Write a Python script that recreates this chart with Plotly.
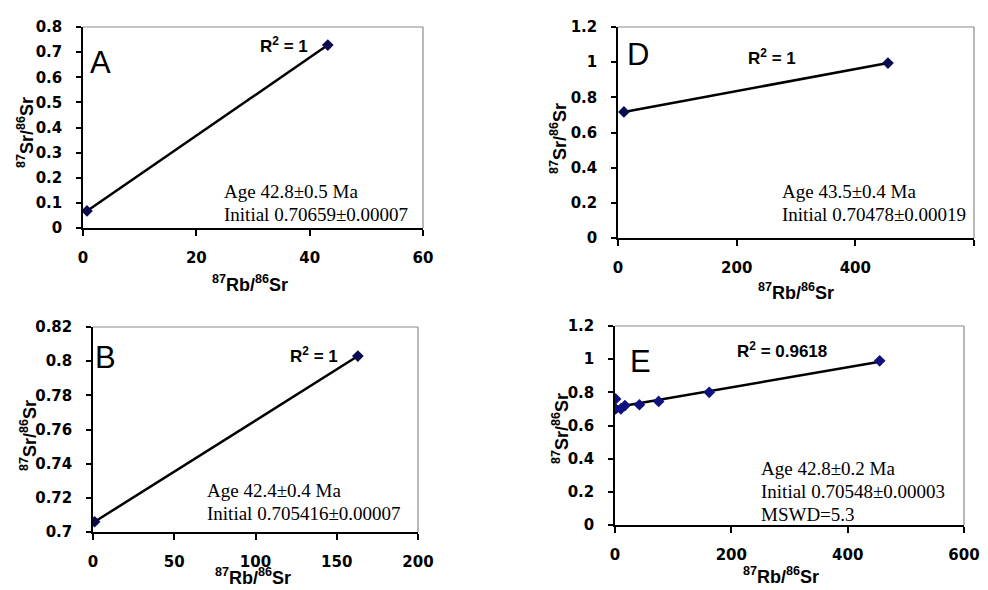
import numpy as np
import plotly.graph_objects as go

W, H = 988, 590
OFF = 0  # body margin removed via post_script, so figure pixels == window pixels

# ---- data ----
a_x = [0.7, 43.2]
a_y = [0.068, 0.728]
b_x = [1, 163]
b_y = [0.706, 0.803]
d_x = [10, 455]
d_y = [0.717, 0.995]
e_x = [1, 1, 10, 17, 42, 75, 162, 455]
e_y = [0.76, 0.70, 0.70, 0.72, 0.725, 0.745, 0.80, 0.99]

panel_letters = ["A", "B", "D", "E"]
r2_labels = ["R<sup>2</sup> = 1", "R<sup>2</sup> = 1", "R<sup>2</sup> = 1", "R<sup>2</sup> = 0.9618"]
info_texts = [
    ["Age 42.8±0.5 Ma", "Initial 0.70659±0.00007"],
    ["Age 42.4±0.4 Ma", "Initial 0.705416±0.00007"],
    ["Age 43.5±0.4 Ma", "Initial 0.70478±0.00019"],
    ["Age 42.8±0.2 Ma", "Initial 0.70548±0.00003", "MSWD=5.3"],
]
x_ranges = [[0, 60], [0, 200], [0, 600], [0, 600]]
x_dticks = [20, 50, 200, 200]
y_ranges = [[0, 0.8], [0.7, 0.82], [0, 1.2], [0, 1.2]]
y_dticks = [0.1, 0.02, 0.2, 0.2]

xs = [a_x, b_x, d_x, e_x]
ys = [a_y, b_y, d_y, e_y]

# ---- layout (window pixel boxes: left, right, top, bottom) ----
boxes = [(83, 423, 27, 228), (93, 418, 327, 532), (618, 974, 27, 238), (615, 964, 326, 525)]
xtitle_pos = [(250, 283), (253, 576), (796, 291), (781, 575)]
ytitle_pos = [(25, 133), (28, 436), (559, 139), (560, 429)]
r2_pos = [(284, 45), (314, 355), (772, 57), (782, 350)]
info_pos = [(222, 191), (205, 490), (780, 191), (759, 468)]
letter_pos = [(88, 63), (93, 357), (625, 55), (628, 361)]

BOLD = "Liberation Sans, Arial, sans-serif"
TICKF = "DejaVu Sans, sans-serif"
SERIF = "Liberation Serif, Times New Roman, serif"


def px(x):
    return (x - OFF) / W


def py(y):
    return 1 - (y - OFF) / H


fig = go.Figure()
layout = dict(
    width=W, height=H, margin=dict(l=0, r=0, t=0, b=0, autoexpand=False),
    paper_bgcolor="white", plot_bgcolor="white", showlegend=False,
    font=dict(family=BOLD, color="black"),
)
annotations = []
shapes = []

for i in range(4):
    n = i + 1
    xa = "xaxis" if n == 1 else f"xaxis{n}"
    ya = "yaxis" if n == 1 else f"yaxis{n}"
    xr = "x" if n == 1 else f"x{n}"
    yr = "y" if n == 1 else f"y{n}"
    l, r, t, b = boxes[i]
    layout[xa] = dict(
        domain=[px(l), px(r)], anchor=yr, range=x_ranges[i], dtick=x_dticks[i], tick0=0,
        showgrid=False, zeroline=False, showline=True, linecolor="black", linewidth=1.5,
        ticks="outside", ticklen=6, tickcolor="black", tickwidth=1.5,
        tickprefix="<b>", ticksuffix="</b>", automargin=False,
        tickfont=dict(family=TICKF, size=15, color="black"),
        ticklabelstandoff=9,
    )
    layout[ya] = dict(
        domain=[py(b), py(t)], anchor=xr, range=y_ranges[i], dtick=y_dticks[i], tick0=0,
        showgrid=False, zeroline=False, showline=True, linecolor="black", linewidth=1.5,
        ticks="outside", ticklen=5, tickcolor="black", tickwidth=1.5,
        tickprefix="<b>", ticksuffix="</b>", automargin=False,
        tickfont=dict(family=TICKF, size=15, color="black"),
        ticklabelstandoff=11,
    )
    # frame (top/right lighter)
    shapes.append(dict(type="line", xref="paper", yref="paper", x0=px(l), x1=px(r), y0=py(t), y1=py(t),
                       line=dict(color="#8a8a8a", width=1.2)))
    shapes.append(dict(type="line", xref="paper", yref="paper", x0=px(r), x1=px(r), y0=py(t), y1=py(b),
                       line=dict(color="#8a8a8a", width=1.2)))

    x = np.array(xs[i], dtype=float)
    y = np.array(ys[i], dtype=float)
    k, c = np.polyfit(x, y, 1)
    xl = np.array([x.min(), x.max()])
    fig.add_trace(go.Scatter(x=xl, y=k * xl + c, mode="lines", line=dict(color="black", width=2.5),
                             xaxis=xr, yaxis=yr, hoverinfo="skip"))
    fig.add_trace(go.Scatter(x=x, y=y, mode="markers",
                             marker=dict(symbol="diamond", size=9, color="#0a0a50" if i < 3 else "#101080"),
                             xaxis=xr, yaxis=yr))

    annotations.append(dict(text="<b><sup>87</sup>Rb/<sup>86</sup>Sr</b>", x=px(xtitle_pos[i][0]), y=py(xtitle_pos[i][1]),
                            xref="paper", yref="paper", showarrow=False, xanchor="center", yanchor="middle",
                            font=dict(size=18, family=BOLD)))
    annotations.append(dict(text="<b><sup>87</sup>Sr/<sup>86</sup>Sr</b>", x=px(ytitle_pos[i][0]), y=py(ytitle_pos[i][1]),
                            xref="paper", yref="paper", showarrow=False, xanchor="center", yanchor="middle",
                            textangle=-90, font=dict(size=18, family=BOLD)))
    annotations.append(dict(text="<b>" + r2_labels[i] + "</b>", x=px(r2_pos[i][0]), y=py(r2_pos[i][1]),
                            xref="paper", yref="paper", showarrow=False, xanchor="center", yanchor="middle",
                            font=dict(size=17, family=BOLD)))
    annotations.append(dict(text=panel_letters[i], x=px(letter_pos[i][0]), y=py(letter_pos[i][1]),
                            xref="paper", yref="paper", showarrow=False, xanchor="left", yanchor="middle",
                            font=dict(size=31, family=BOLD)))
    for j, line in enumerate(info_texts[i]):
        annotations.append(dict(text=line, x=px(info_pos[i][0]), y=py(info_pos[i][1] + j * 23),
                                xref="paper", yref="paper", showarrow=False, xanchor="left", yanchor="middle",
                                font=dict(size=19, family=SERIF)))

layout["annotations"] = annotations
layout["shapes"] = shapes
fig.update_layout(**layout)
fig.write_html("out.html", config={"displayModeBar": False},
               post_script="document.body.style.margin='0';document.body.style.padding='0';"
                           "document.documentElement.style.overflow='hidden';")
